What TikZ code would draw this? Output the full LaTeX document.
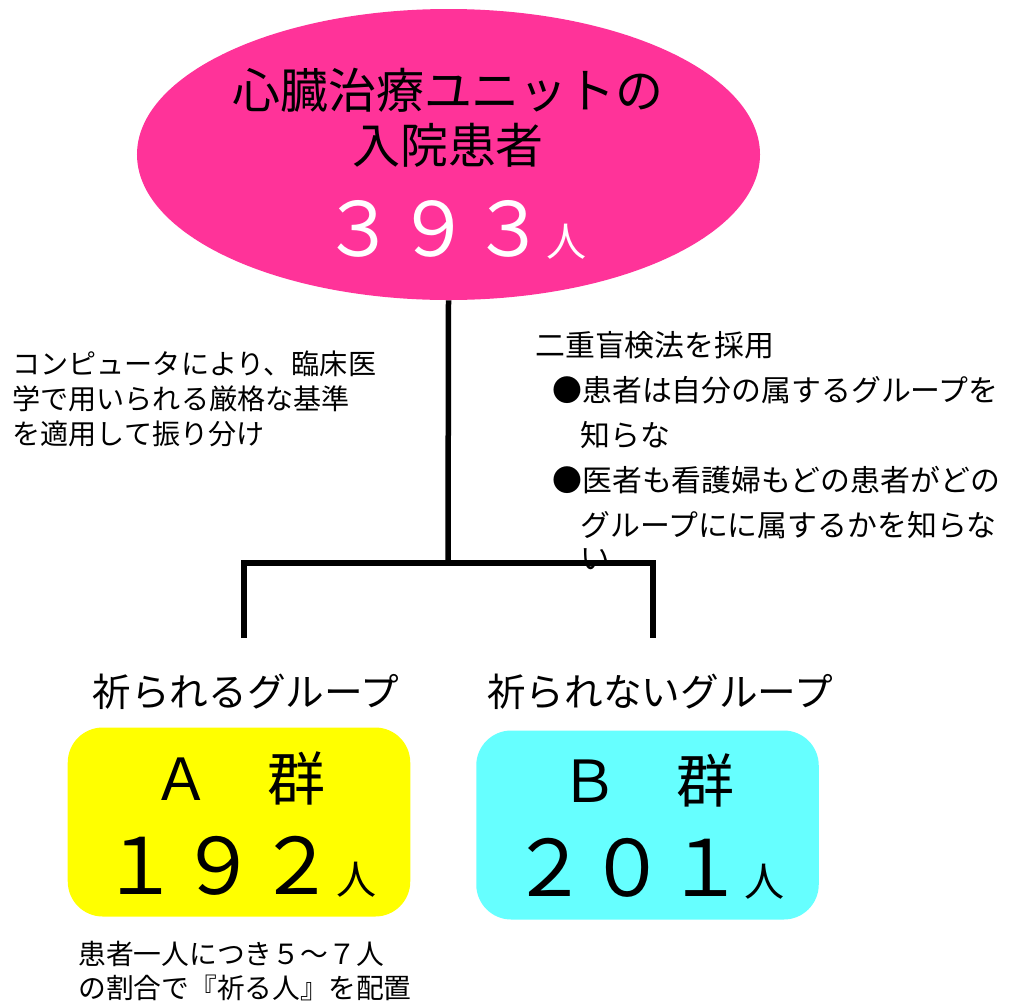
\documentclass[tikz,border=0pt]{standalone}
\usepackage{fontspec}
\setmainfont{Noto Sans CJK JP}
\usetikzlibrary{shapes.geometric}
\definecolor{heartpink}{HTML}{FF3399}
\definecolor{prayyellow}{HTML}{FFFF00}
\definecolor{controlcyan}{HTML}{66FFFF}

\begin{document}
\begin{tikzpicture}[x=0.2mm,y=-0.2mm,
	group/.style = {rounded corners=7mm, minimum width=68.5mm, minimum height=37.8mm, inner sep=0pt},
	note/.style = {align=left, inner sep=0pt, anchor=north west},
	tree/.style = {line width=1.1mm, black}]
	\useasboundingbox (0,0) rectangle (1009,1004);
	% patients
	\node[ellipse, fill=heartpink, minimum width=124.6mm, minimum height=58.2mm, inner sep=0pt] (P) at (448.5,154.5) {};
	\begin{scope}[every node/.style={inner sep=0pt}]
		\node[font=\fontsize{27.3}{31.3}\selectfont, align=center] (title) at (448,118) {心臓治療ユニットの\\入院患者};
		\node[text=white] (total) at (454,230) {\fontsize{42.7}{45}\selectfont ３９３\fontsize{22.8}{24}\selectfont 人};
		% groups
		\node[font=\fontsize{22}{24}\selectfont] (Alabel) at (246,692) {祈られるグループ};
		\node[font=\fontsize{22}{24}\selectfont] (Blabel) at (660,692) {祈られないグループ};
	\end{scope}
	\node[group, fill=prayyellow] (A) at (239,822) {};
	\node[group, fill=controlcyan] (B) at (647.5,825) {};
	\begin{scope}[every node/.style={inner sep=0pt}]
		\node (Aname) at (A.center |- 0,778) {\fontsize{33}{36}\selectfont Ａ　群};
		\node (Acount) at (A.center |- 0,867) {\fontsize{44.4}{48}\selectfont １９２\fontsize{22.8}{24}\selectfont 人};
		\node (Bname) at (B.center |- 0,780) {\fontsize{33}{36}\selectfont Ｂ　群};
		\node (Bcount) at (B.center |- 0,869) {\fontsize{44.4}{48}\selectfont ２０１\fontsize{22.8}{24}\selectfont 人};
	\end{scope}
	% notes
	\node[note, font=\fontsize{16}{20}\selectfont] (sorting) at (12,350) {コンピュータにより、臨床医\\学で用いられる厳格な基準\\を適用して振り分け};
	\node[note, font=\fontsize{17}{25.6}\selectfont] (blind) at (535,331) {二重盲検法を採用\\\hspace*{9.7pt}●患者は自分の属するグループを\\\hspace*{25.6pt}知らな\\\hspace*{9.7pt}●医者も看護婦もどの患者がどの\\\hspace*{25.6pt}グループにに属するかを知らな\\[-7pt]\hspace*{25.6pt}い};
	\node[note, font=\fontsize{15.8}{19}\selectfont] (prayers) at (78,941) {患者一人につき５～７人\\の割合で『祈る人』を配置};
	% tree
	\coordinate (split) at (448,563);
	\coordinate (legA) at (244,638);
	\coordinate (legB) at (653,638);
	\draw[tree] (P.south) -- (split);
	\draw[tree] (legA) |- (split) -| (legB);
\end{tikzpicture}
\end{document}
